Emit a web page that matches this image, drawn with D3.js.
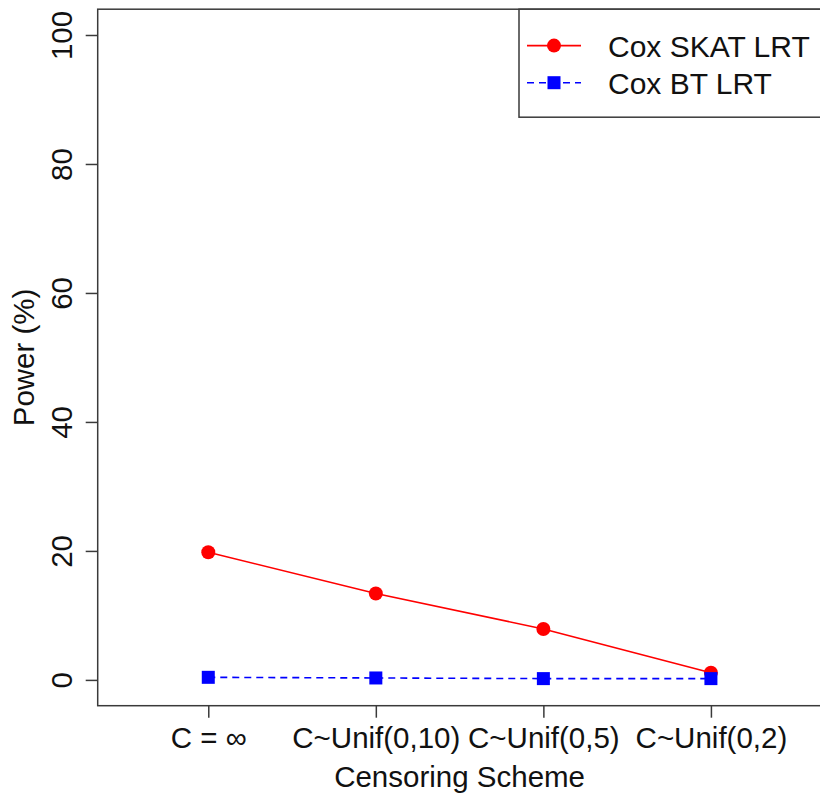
<!DOCTYPE html>
<html>
<head>
<meta charset="utf-8">
<script src="https://cdn.jsdelivr.net/npm/d3@7"></script>
<style>
  html, body { margin: 0; padding: 0; background: #fff; }
  svg { display: block; font-family: "Liberation Sans", Arial, Helvetica, sans-serif; }
</style>
</head>
<body>
<svg id="chart" width="820" height="796"></svg>
<script>
// Censoring schemes on the x axis
const categories = ["C = \u221E", "C~Unif(0,10)", "C~Unif(0,5)", "C~Unif(0,2)"];
// Empirical power (%) of each test
const skatPower = [19.8, 13.4, 7.9, 1.1];
const btPower = [0.4, 0.3, 0.2, 0.2];
const yTicks = [0, 20, 40, 60, 80, 100];
const seriesNames = ["Cox SKAT LRT", "Cox BT LRT"];
const seriesColors = ["#ff0000", "#0000ff"];

const svg = d3.select("#chart");
const axisColor = "#3a3a3a";
const textColor = "#111";
const fontSize = 29.5;
const legendFontSize = 30;

// Plot region (R-style 4% padding around the data range)
const plotLeft = 97.7, plotRight = 821.5, plotTop = 9.2, plotBottom = 705.7;
const x = d3.scaleLinear().domain([0.34, 4.66]).range([plotLeft, plotRight]);
const y = d3.scaleLinear().domain([-4, 104]).range([plotBottom, plotTop]);
const idx = categories.map((_, i) => i + 1);

// Series lines
const line = d3.line().x((d, i) => x(idx[i])).y(d => y(d));

svg.append("path")
  .datum(skatPower)
  .attr("d", line)
  .attr("fill", "none")
  .attr("stroke", seriesColors[0])
  .attr("stroke-width", 1.6);

svg.append("path")
  .datum(btPower)
  .attr("d", line)
  .attr("fill", "none")
  .attr("stroke", seriesColors[1])
  .attr("stroke-width", 1.6)
  .attr("stroke-dasharray", "7,5");

// Markers
svg.append("g").selectAll("circle")
  .data(skatPower)
  .join("circle")
  .attr("cx", (d, i) => x(idx[i]))
  .attr("cy", d => y(d))
  .attr("r", 7)
  .attr("fill", seriesColors[0]);

const sq = 13;
svg.append("g").selectAll("rect")
  .data(btPower)
  .join("rect")
  .attr("x", (d, i) => x(idx[i]) - sq / 2)
  .attr("y", d => y(d) - sq / 2)
  .attr("width", sq)
  .attr("height", sq)
  .attr("fill", seriesColors[1]);

// Plot box
svg.append("rect")
  .attr("x", plotLeft).attr("y", plotTop)
  .attr("width", plotRight - plotLeft).attr("height", plotBottom - plotTop)
  .attr("fill", "none")
  .attr("stroke", axisColor)
  .attr("stroke-width", 1.5);

// Y axis
const yAxis = svg.append("g")
  .attr("transform", `translate(${plotLeft},0)`)
  .call(d3.axisLeft(y).tickValues(yTicks).tickSize(12).tickSizeOuter(0));
yAxis.select(".domain").remove();
yAxis.selectAll(".tick line").attr("stroke", axisColor).attr("stroke-width", 1.5);
yAxis.selectAll(".tick text")
  .attr("x", 0).attr("y", -26).attr("dy", null)
  .attr("transform", "rotate(-90)")
  .attr("text-anchor", "middle")
  .attr("fill", textColor)
  .style("font-size", fontSize + "px")
  .style("font-family", "'Liberation Sans', Arial, sans-serif");

// X axis
const xAxis = svg.append("g")
  .attr("transform", `translate(0,${plotBottom})`)
  .call(d3.axisBottom(x).tickValues(idx).tickFormat(d => categories[d - 1]).tickSize(12).tickSizeOuter(0));
xAxis.select(".domain").remove();
xAxis.selectAll(".tick line").attr("stroke", axisColor).attr("stroke-width", 1.5);
xAxis.selectAll(".tick text")
  .attr("y", 42.5).attr("dy", null)
  .attr("fill", textColor)
  .style("font-size", fontSize + "px")
  .style("font-family", "'Liberation Sans', Arial, sans-serif");

// Axis titles
svg.append("text")
  .attr("x", (plotLeft + plotRight) / 2)
  .attr("y", 787)
  .attr("text-anchor", "middle")
  .attr("fill", textColor)
  .style("font-size", fontSize + "px")
  .text("Censoring Scheme");

svg.append("text")
  .attr("transform", `translate(34,${(plotTop + plotBottom) / 2}) rotate(-90)`)
  .attr("text-anchor", "middle")
  .attr("fill", textColor)
  .style("font-size", fontSize + "px")
  .text("Power (%)");

// Legend
const legend = svg.append("g");
legend.append("rect")
  .attr("x", 519).attr("y", plotTop)
  .attr("width", plotRight - 519).attr("height", 108)
  .attr("fill", "#fff")
  .attr("stroke", axisColor)
  .attr("stroke-width", 1.5);

const legendRows = [45.6, 82.7];
seriesNames.forEach((name, i) => {
  const ly = legendRows[i];
  legend.append("line")
    .attr("x1", 527).attr("x2", 581)
    .attr("y1", ly).attr("y2", ly)
    .attr("stroke", seriesColors[i])
    .attr("stroke-width", 1.6)
    .attr("stroke-dasharray", i === 1 ? "7,5" : null);
  if (i === 0) {
    legend.append("circle").attr("cx", 554).attr("cy", ly).attr("r", 7).attr("fill", seriesColors[i]);
  } else {
    legend.append("rect").attr("x", 554 - sq / 2).attr("y", ly - sq / 2)
      .attr("width", sq).attr("height", sq).attr("fill", seriesColors[i]);
  }
  legend.append("text")
    .attr("x", 608)
    .attr("y", ly + 11)
    .attr("fill", textColor)
    .style("font-size", legendFontSize + "px")
    .text(name);
});
</script>
</body>
</html>
